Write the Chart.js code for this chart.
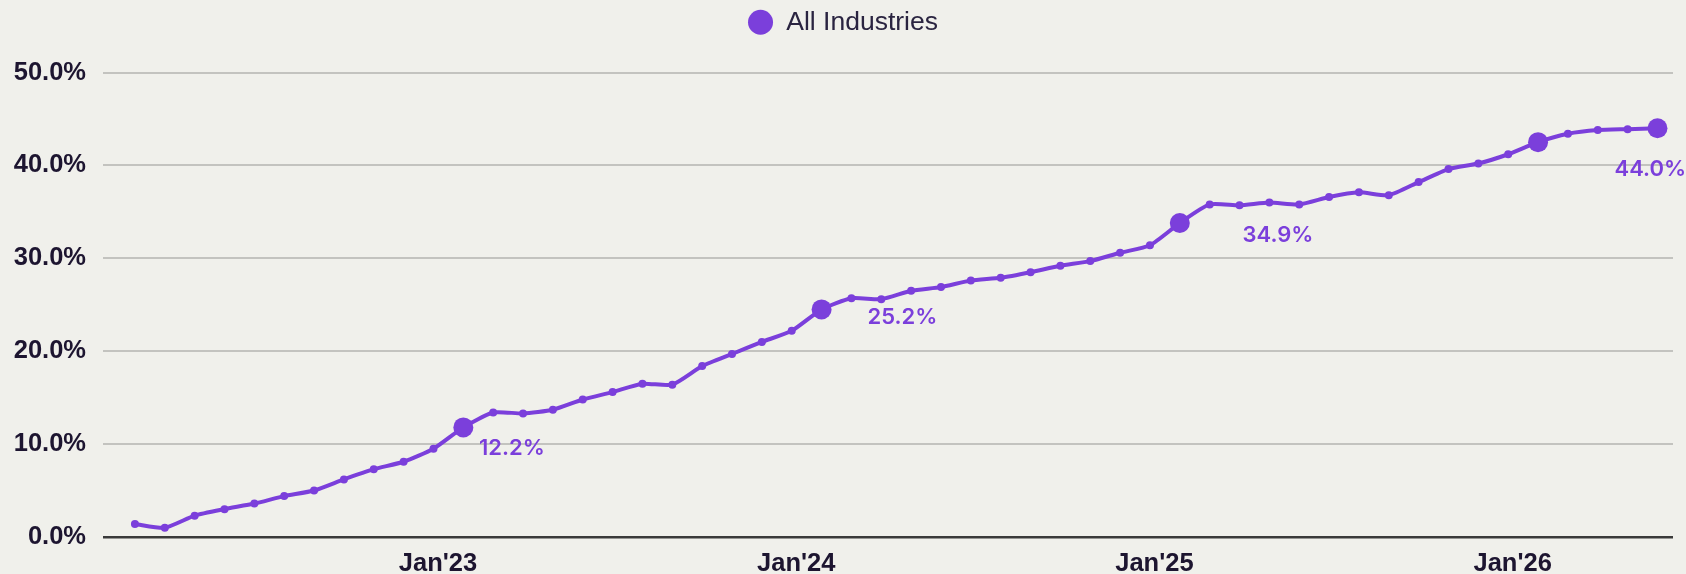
<!DOCTYPE html>
<html>
<head>
<meta charset="utf-8">
<script src="https://cdn.jsdelivr.net/npm/chart.js@4.4.1/dist/chart.umd.min.js"></script>
<style>
  html, body { margin: 0; padding: 0; background: #f0f0eb; }
  #wrap { width: 1686px; height: 574px; position: relative; }
</style>
</head>
<body>
<div id="wrap"><canvas id="trendChart"></canvas></div>
<script>
// monthly points, Feb'22 .. May'26
const months = [
  "Feb'22","Mar'22","Apr'22","May'22","Jun'22","Jul'22","Aug'22","Sep'22","Oct'22","Nov'22","Dec'22",
  "Jan'23","Feb'23","Mar'23","Apr'23","May'23","Jun'23","Jul'23","Aug'23","Sep'23","Oct'23","Nov'23","Dec'23",
  "Jan'24","Feb'24","Mar'24","Apr'24","May'24","Jun'24","Jul'24","Aug'24","Sep'24","Oct'24","Nov'24","Dec'24",
  "Jan'25","Feb'25","Mar'25","Apr'25","May'25","Jun'25","Jul'25","Aug'25","Sep'25","Oct'25","Nov'25","Dec'25",
  "Jan'26","Feb'26","Mar'26","Apr'26","May'26"
];
const allIndustries = [
  1.4, 1.0, 2.3, 3.0, 3.6, 4.4, 5.0, 6.2, 7.3, 8.1, 9.5,
  11.8, 13.4, 13.3, 13.7, 14.8, 15.6, 16.5, 16.4, 18.4, 19.7, 21.0, 22.2,
  24.5, 25.7, 25.6, 26.5, 26.9, 27.6, 27.9, 28.5, 29.2, 29.7, 30.6, 31.4,
  33.8, 35.8, 35.7, 36.0, 35.8, 36.6, 37.1, 36.8, 38.2, 39.6, 40.2, 41.2,
  42.5, 43.4, 43.8, 43.9, 44.0
];
const bigPoints = ["Jan'23", "Jan'24", "Jan'25", "Jan'26", "May'26"];
const calloutMonths = ["Jan'23", "Jan'24", "Jan'25", "May'26"];
const calloutTexts = ["12.2%", "25.2%", "34.9%", "44.0%"];
const xTickLabels = ["Jan'23", "Jan'24", "Jan'25", "Jan'26"];
const xTickPositions = [10.15, 22.15, 34.15, 46.15]; // in month-index units
const yTicks = [0, 10, 20, 30, 40, 50];

const purple = '#7b3fdb';
const ink = '#1d1530';

const points = allIndustries.map((v, i) => ({ x: i, y: v }));

const calloutPlugin = {
    id: 'callouts',
    afterDatasetsDraw(chart, args, opts) {
        const meta = chart.getDatasetMeta(0);
        const ctx = chart.ctx;
        ctx.save();
        ctx.font = opts.font;
        ctx.fillStyle = opts.color;
        ctx.textAlign = 'left';
        ctx.textBaseline = 'middle';
        calloutMonths.forEach((m, k) => {
            const el = meta.data[months.indexOf(m)];
            const off = opts.offsets[k];
            ctx.fillText(calloutTexts[k], el.x + off[0], el.y + off[1]);
        });
        ctx.restore();
    }
};

const legendSpace = {
    id: 'legendSpace',
    beforeInit(chart) {
        const fit = chart.legend.fit;
        chart.legend.fit = function () {
            fit.bind(chart.legend)();
            this.height += 27;
        };
    }
};

new Chart(document.getElementById('trendChart').getContext('2d'), {
    type: 'line',
    data: {
        datasets: [{
            label: 'All Industries',
            data: points,
            borderColor: purple,
            backgroundColor: purple,
            borderWidth: 4,
            tension: 0.2,
            pointRadius: ctx => bigPoints.includes(months[ctx.dataIndex]) ? 10 : 4,
            pointHoverRadius: ctx => bigPoints.includes(months[ctx.dataIndex]) ? 10 : 4,
            pointBorderWidth: 0,
            pointBackgroundColor: purple
        }]
    },
    options: {
        responsive: true,
        maintainAspectRatio: false,
        animation: false,
        layout: { padding: { left: 13, right: 13, top: 0, bottom: 0 } },
        plugins: {
            legend: {
                position: 'top',
                labels: {
                    usePointStyle: true,
                    pointStyle: 'circle',
                    boxHeight: 17.7,
                    pointStyleWidth: 25,
                    padding: 9,
                    color: '#2a2440',
                    font: { family: '"Liberation Sans", Arial, sans-serif', size: 26.5 }
                }
            },
            tooltip: { enabled: false },
            callouts: {
                font: '600 22px Inter, "Noto Sans", sans-serif',
                color: purple,
                offsets: [[15.6, 20.7], [46, 8], [62.7, 12.7], [-43, 41.2]]
            }
        },
        scales: {
            x: {
                type: 'linear',
                min: -1.07,
                max: 51.52,
                grid: { display: false, drawTicks: false },
                border: { display: false },
                afterBuildTicks: axis => {
                    axis.ticks = xTickPositions.map(v => ({ value: v }));
                },
                afterFit: axis => { axis.height = 37; },
                ticks: {
                    autoSkip: false,
                    maxRotation: 0,
                    padding: 17,
                    color: ink,
                    font: { family: '"Liberation Sans", Arial, sans-serif', size: 25.5, weight: 'bold', lineHeight: 0.78 },
                    callback: (v, i) => xTickLabels[i]
                }
            },
            y: {
                min: 0,
                max: 50,
                grid: {
                    drawTicks: false,
                    color: ctx => ctx.tick && ctx.tick.value === 0 ? '#3a3a3a' : '#c3c3bf',
                    lineWidth: ctx => ctx.tick && ctx.tick.value === 0 ? 2.5 : 2
                },
                border: { display: false },
                afterBuildTicks: axis => {
                    axis.ticks = yTicks.map(v => ({ value: v }));
                },
                afterFit: axis => { axis.width = 90; },
                ticks: {
                    padding: 17,
                    color: ink,
                    font: { family: '"Liberation Sans", Arial, sans-serif', size: 25.5, weight: 'bold' },
                    callback: v => v.toFixed(1) + '%'
                }
            }
        }
    },
    plugins: [calloutPlugin, legendSpace]
});
</script>
</body>
</html>
